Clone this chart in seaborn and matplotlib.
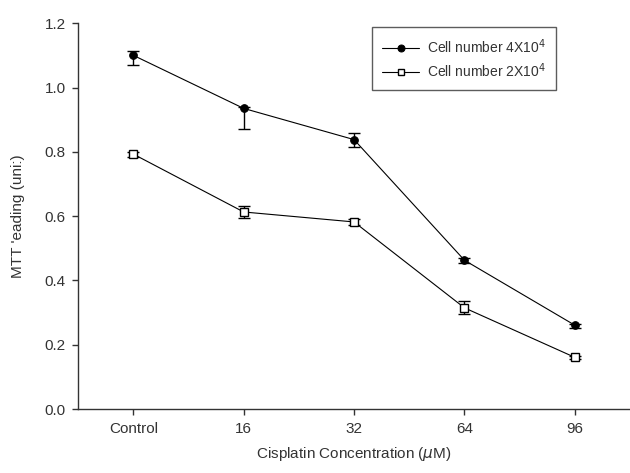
import matplotlib
matplotlib.use("Agg")
import matplotlib.pyplot as plt
import seaborn as sns
import pandas as pd

# Data
concentrations = ["Control", "16", "32", "64", "96"]
cells_4x = [1.100, 0.935, 0.838, 0.463, 0.261]
cells_4x_err_low = [0.030, 0.063, 0.024, 0.010, 0.008]
cells_4x_err_high = [0.012, 0.005, 0.022, 0.006, 0.005]
cells_2x = [0.793, 0.613, 0.582, 0.315, 0.161]
cells_2x_err = [0.008, 0.018, 0.008, 0.020, 0.005]

sns.set_style("ticks")
plt.rcParams["font.family"] = ["Liberation Sans", "DejaVu Sans"]

pos = list(range(len(concentrations)))
df = pd.DataFrame({
    "pos": pos * 2,
    "value": cells_4x + cells_2x,
    "series": ["Cell number 4X10$^4$"] * 5 + ["Cell number 2X10$^4$"] * 5,
})

fig = plt.figure(figsize=(6.3, 4.73), dpi=100)
ax = fig.add_axes([0.124, 0.135, 0.876, 0.816])

# error bars first so markers sit on top
ax.errorbar(pos, cells_4x, yerr=[cells_4x_err_low, cells_4x_err_high], fmt="none",
            ecolor="black", elinewidth=1.0, capsize=4, capthick=1.0, zorder=2)
ax.errorbar(pos, cells_2x, yerr=cells_2x_err, fmt="none",
            ecolor="black", elinewidth=1.0, capsize=4, capthick=1.0, zorder=2)

sns.lineplot(data=df, x="pos", y="value", hue="series", style="series",
             palette=["black", "black"], markers=["o", "s"], dashes=False,
             linewidth=0.8, markersize=5.5, ax=ax, zorder=3)

# open square markers for the 2X10^4 series
for ln in ax.get_lines():
    if ln.get_marker() == "s":
        ln.set_markerfacecolor("white")
        ln.set_markeredgecolor("black")
        ln.set_markeredgewidth(1.0)
    elif ln.get_marker() == "o":
        ln.set_markerfacecolor("black")
        ln.set_markeredgecolor("black")

ax.set_xlim(-0.5, 4.5)
ax.set_ylim(0, 1.2)
ax.set_xticks(pos)
ax.set_xticklabels(concentrations)
ax.set_yticks([0.0, 0.2, 0.4, 0.6, 0.8, 1.0, 1.2])
ax.set_yticklabels([f"{v:.1f}" for v in [0.0, 0.2, 0.4, 0.6, 0.8, 1.0, 1.2]])
ax.tick_params(axis="both", direction="out", length=4, width=1, labelsize=11,
               colors="#333333", pad=5)
ax.set_xlabel("Cisplatin Concentration ($\\mu$M)", fontsize=11, color="#333333", labelpad=7)
ax.set_ylabel("MTT 'eading (uni:)", fontsize=11, color="#333333", labelpad=14)

sns.despine(ax=ax)
for s in ["left", "bottom"]:
    ax.spines[s].set_linewidth(1.0)
    ax.spines[s].set_color("#333333")

leg = ax.legend(loc="upper left", bbox_to_anchor=(0.52, 1.008), frameon=True,
                fancybox=False, edgecolor="#333333", fontsize=10,
                handlelength=2.6, borderpad=0.75, labelspacing=0.35,
                handletextpad=0.6)
leg.get_frame().set_linewidth(1.0)
for t in leg.get_texts():
    t.set_color("#333333")
for h in leg.legend_handles:
    if h.get_marker() == "s":
        h.set_markerfacecolor("white")
        h.set_markeredgecolor("black")
    h.set_markersize(5)

fig.savefig("out.png", dpi=100)
